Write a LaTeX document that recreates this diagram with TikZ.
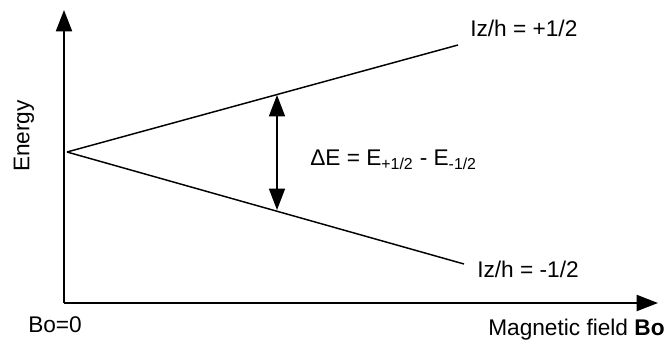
\documentclass[tikz,border=0pt]{standalone}
\usepackage{fontspec}
\setmainfont{Liberation Sans}
\usetikzlibrary{arrows.meta}
\begin{document}
\begin{tikzpicture}[x=0.75pt,y=-0.75pt,
  axis/.style={line width=1.5pt, -{Triangle[length=16pt,width=12pt]}},
  level/.style={line width=1.1pt},
  gap/.style={line width=1.1pt, {Triangle[length=16pt,width=12pt]}-{Triangle[length=16pt,width=12pt]}},
  lbl/.style={font=\fontsize{17}{20}\selectfont, inner sep=0pt}]
\useasboundingbox (0,0) rectangle (664,343);
\coordinate (orig) at (64,303);
\coordinate (ytop) at (64,10);
\coordinate (xend) at (658,303);
\coordinate (split) at (67,152);
\coordinate (upper) at (458,45);
\coordinate (lower) at (464,264);
\coordinate (gaptop) at (277,95);
\coordinate (gapbot) at (277,210);
\draw[axis] (orig) -- (ytop);
\draw[axis] (orig) -- (xend);
\draw[level] (split) -- (upper);
\draw[level] (split) -- (lower);
\draw[gap] (gaptop) -- (gapbot);
\node[lbl, rotate=90] (energy) at (24,136) {Energy};
\node[lbl, anchor=west] (plus) at (470,28) {Iz/h = +1/2};
\node[lbl, anchor=west] (minus) at (477,269) {Iz/h = -1/2};
\node[lbl, anchor=west] (delta) at (310,160) {ΔE = E\textsubscript{+1/2} - E\textsubscript{-1/2}};
\node[lbl, anchor=west] (bzero) at (28,325) {Bo=0};
\node[lbl, anchor=west] (field) at (488,330) {Magnetic field \textbf{Bo}};
\end{tikzpicture}
\end{document}
